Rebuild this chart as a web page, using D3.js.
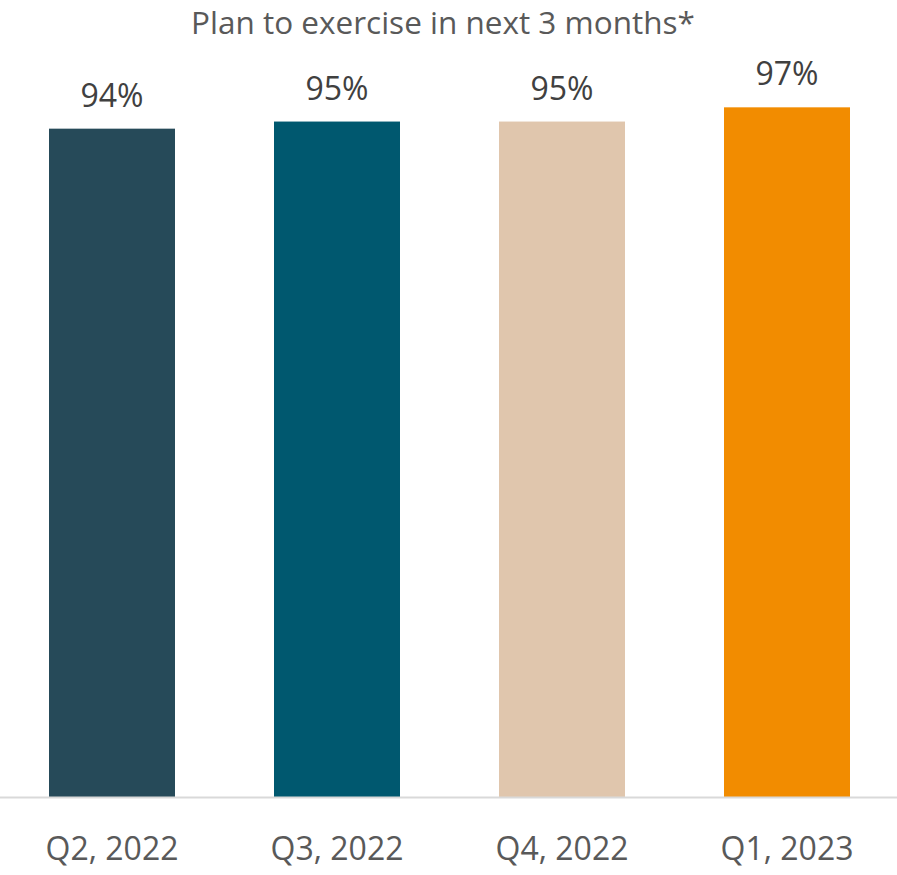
<!DOCTYPE html>
<html>
<head>
<meta charset="utf-8">
<script src="https://cdn.jsdelivr.net/npm/d3@7"></script>
<style>
  html, body { margin: 0; padding: 0; background: #ffffff; }
  svg { display: block; }
</style>
</head>
<body>
<div id="chart"></div>
<script>
const categories = ["Q2, 2022", "Q3, 2022", "Q4, 2022", "Q1, 2023"];
const values = [0.94, 0.95, 0.95, 0.97];
const colors = ["#264a59", "#00586f", "#e0c6ad", "#f28c00"];
const title = "Plan to exercise in next 3 months*";

const W = 897, H = 875;
const FONT = "'Open Sans', 'Source Sans Pro', 'Noto Sans', sans-serif";
const svg = d3.select("#chart").append("svg").attr("width", W).attr("height", H);

const x = d3.scaleBand().domain(categories).range([-0.5, 899.5]).paddingInner(0.44).paddingOuter(0.22);
const y = d3.scaleLinear().domain([0, 1]).range([797, 86]);

svg.append("text")
  .attr("x", 443).attr("y", 34)
  .attr("text-anchor", "middle")
  .attr("font-family", FONT).attr("font-size", 31.5)
  .attr("fill", "#595959")
  .text(title);

svg.selectAll("rect.bar").data(categories).join("rect")
  .attr("class", "bar")
  .attr("x", d => x(d))
  .attr("width", x.bandwidth())
  .attr("y", (d, i) => y(values[i]))
  .attr("height", (d, i) => y(0) - y(values[i]))
  .attr("fill", (d, i) => colors[i]);

svg.selectAll("text.val").data(categories).join("text")
  .attr("class", "val")
  .attr("x", d => x(d) + x.bandwidth() / 2)
  .attr("y", (d, i) => y(values[i]) - 22)
  .attr("text-anchor", "middle")
  .attr("font-family", FONT).attr("font-size", 32)
  .attr("fill", "#404040")
  .text((d, i) => d3.format(".0%")(values[i]));

const axis = svg.append("g").attr("transform", `translate(0,${y(0)})`)
  .call(d3.axisBottom(x).tickSize(0));
axis.select(".domain").attr("stroke", "#d9d9d9").attr("stroke-width", 2)
  .attr("d", `M0,0.5H${W}`);
axis.selectAll("text")
  .attr("y", 63).attr("dy", null)
  .attr("font-family", FONT).attr("font-size", 32)
  .attr("fill", "#595959");
</script>
</body>
</html>
